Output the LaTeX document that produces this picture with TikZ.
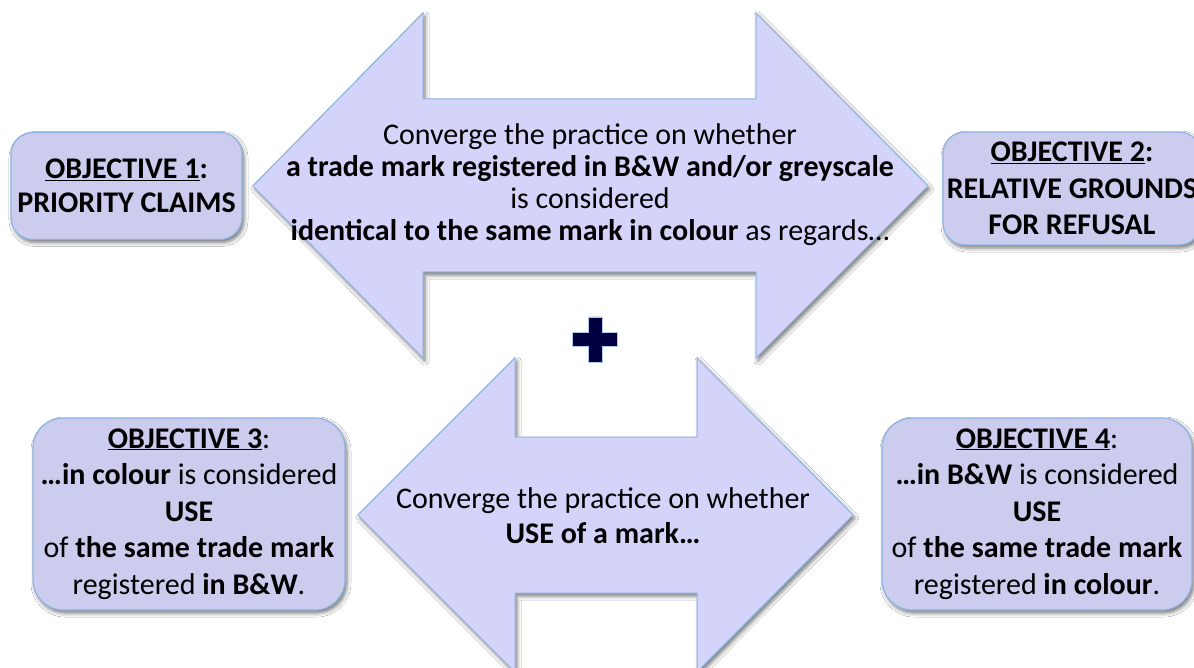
\documentclass[tikz,border=0pt]{standalone}
\usepackage{fontspec}
\setmainfont{Carlito}
\usetikzlibrary{shadows.blur}
\definecolor{arrowfill}{HTML}{D4D4FA}
\definecolor{boxfill}{HTML}{CCCCEE}
\definecolor{edgeblue}{HTML}{8EB4E3}
\definecolor{navy}{HTML}{000040}
\tikzset{
  bigarrow/.style={fill=arrowfill, draw=edgeblue, line width=1pt, line join=miter,
    blur shadow={shadow xshift=2pt, shadow yshift=-3pt, shadow blur radius=4pt, shadow opacity=55}},
  objbox/.style={fill=boxfill, draw=edgeblue, line width=1.2pt, rounded corners=22pt,
    align=center, inner sep=0pt,
    blur shadow={shadow xshift=2pt, shadow yshift=-3pt, shadow blur radius=4pt, shadow opacity=55},
    font=\fontsize{30}{36.6}\selectfont},
  arrowtext/.style={align=center, inner sep=0pt, font=\fontsize{30}{32}\selectfont},
  plussign/.style={fill=navy, draw=edgeblue!70, line width=0.8pt}
}
\begin{document}
\begin{tikzpicture}[x=1pt,y=-1pt]
\useasboundingbox (0,0) rectangle (1194,668);
\fill[white] (0,0) rectangle (1194,668);
% top double arrow
\draw[bigarrow] (253,186) -- (423,13) -- (423,99) -- (756,99) -- (756,13) -- (928,186)
  -- (756,358) -- (756,272) -- (423,272) -- (423,358) -- cycle;
% bottom double arrow
\draw[bigarrow] (358,515) -- (515,358) -- (515,437) -- (697,437) -- (697,358) -- (853,515)
  -- (697,672) -- (697,593) -- (515,593) -- (515,672) -- cycle;
% plus sign
\draw[plussign] (588,317) -- (602,317) -- (602,332) -- (617,332) -- (617,346) -- (602,346)
  -- (602,362) -- (588,362) -- (588,346) -- (572,346) -- (572,332) -- (588,332) -- cycle;
% texts in arrows
\node[arrowtext] (t1) at (590,185) {Converge the practice on whether\\
  \textbf{a trade mark registered in B\&W and/or greyscale}\\
  is considered\\
  \textbf{identical to the same mark in colour} as regards…};
\node[arrowtext, font=\fontsize{30}{35}\selectfont] (t2) at (603,516) {Converge the practice on whether\\
  \textbf{USE of a mark…}};
% objective boxes
\node[objbox, font=\fontsize{30}{34}\selectfont, minimum width=231pt, minimum height=107pt] (o1) at (126.5,186)
  {\textbf{\underline{OBJECTIVE 1}:}\\ \textbf{PRIORITY CLAIMS}};
\node[objbox, minimum width=258pt, minimum height=113pt] (o2) at (1072,188.5)
  {\textbf{\underline{OBJECTIVE 2}:}\\ \textbf{RELATIVE GROUNDS}\\ \textbf{FOR REFUSAL}};
\node[objbox, rounded corners=30pt, minimum width=312pt, minimum height=192pt] (o3) at (189,514)
  {\textbf{\underline{OBJECTIVE 3}}:\\ \textbf{…in colour} is considered\\ \textbf{USE}\\
   of \textbf{the same trade mark}\\ registered \textbf{in B\&W}.};
\node[objbox, rounded corners=30pt, minimum width=310pt, minimum height=192pt] (o4) at (1037,514)
  {\textbf{\underline{OBJECTIVE 4}}:\\ \textbf{…in B\&W} is considered\\ \textbf{USE}\\
   of \textbf{the same trade mark}\\ registered \textbf{in colour}.};
\end{tikzpicture}
\end{document}
